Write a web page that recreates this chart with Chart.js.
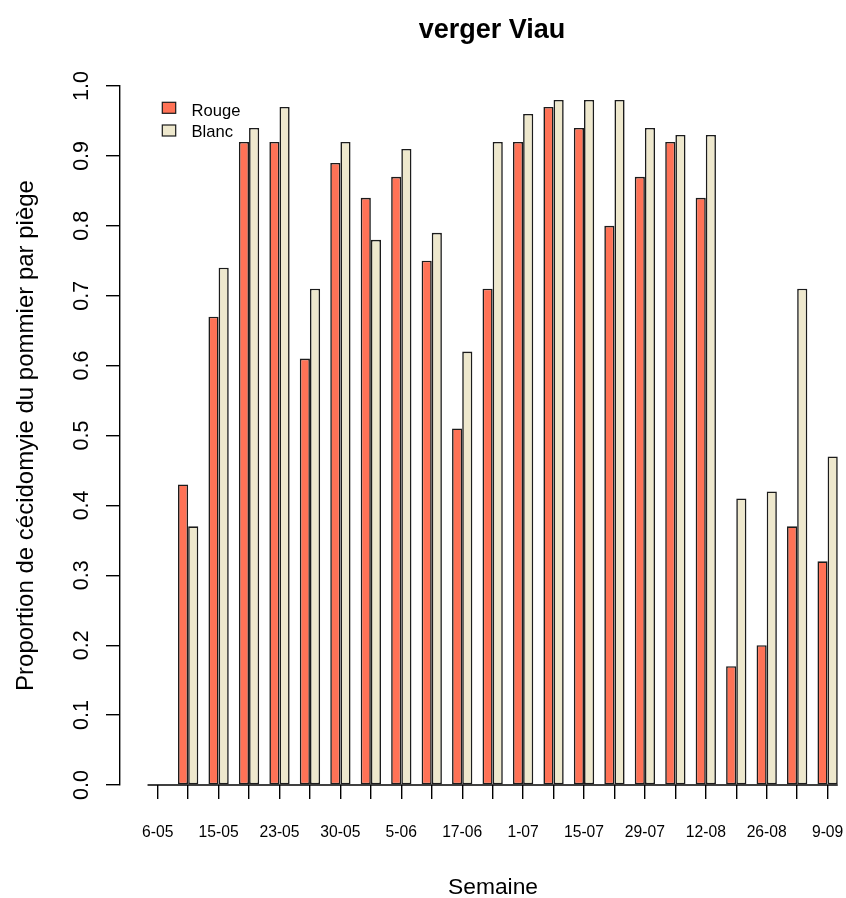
<!DOCTYPE html>
<html>
<head>
<meta charset="utf-8">
<script src="https://cdn.jsdelivr.net/npm/chart.js@4/dist/chart.umd.min.js"></script>
<style>
html, body { margin: 0; padding: 0; background: #ffffff; }
#c { display: block; }
</style>
</head>
<body>
<canvas id="c" width="846" height="898"></canvas>
<script>
// ---- data ----
const weekLabels = ['6-05', '', '15-05', '', '23-05', '', '30-05', '', '5-06', '', '17-06', '', '1-07', '', '15-07', '', '29-07', '', '12-08', '', '26-08', '', '9-09'];
const rougeValues = [0, 0.43, 0.67, 0.92, 0.92, 0.61, 0.89, 0.84, 0.87, 0.75, 0.51, 0.71, 0.92, 0.97, 0.94, 0.80, 0.87, 0.92, 0.84, 0.17, 0.20, 0.37, 0.32];
const blancValues = [0, 0.37, 0.74, 0.94, 0.97, 0.71, 0.92, 0.78, 0.91, 0.79, 0.62, 0.92, 0.96, 0.98, 0.98, 0.98, 0.94, 0.93, 0.93, 0.41, 0.42, 0.71, 0.47];
const yTickLabels = ['0.0', '0.1', '0.2', '0.3', '0.4', '0.5', '0.6', '0.7', '0.8', '0.9', '1.0'];
const seriesNames = ['Rouge', 'Blanc'];
const titleText = 'verger Viau';
const xTitleText = 'Semaine';
const yTitleText = 'Proportion de cécidomyie du pommier par piège';

const FONT = '"Liberation Sans", Arial, Helvetica, sans-serif';
const INK = '#000000';
const colRouge = '#FF7256';
const colBlanc = '#EEE8CD';

const rPlugin = {
  id: 'rstyle',
  afterDraw(chart) {
    const ctx = chart.ctx;
    const ys = chart.scales.y;
    ctx.save();
    ctx.fillStyle = INK;
    ctx.strokeStyle = INK;

    // y tick labels, rotated like R (las = 0)
    ctx.font = '21.5px ' + FONT;
    ctx.textAlign = 'center';
    ctx.textBaseline = 'alphabetic';
    ys.ticks.forEach((t) => {
      const py = ys.getPixelForValue(t.value);
      ctx.save();
      ctx.translate(80.8, py);
      ctx.rotate(-Math.PI / 2);
      ctx.fillText(t.label, 0, 0.358 * 21.5);
      ctx.restore();
    });

    // x axis baseline: spans from first bar to last bar
    const m0 = chart.getDatasetMeta(0).data;
    const m1 = chart.getDatasetMeta(1).data;
    const b0 = m0[0], bl = m1[m1.length - 1];
    const x0 = b0.x - b0.width / 2;
    const x1 = bl.x + bl.width / 2;
    const y0 = ys.getPixelForValue(0);
    ctx.lineWidth = 1.4;
    ctx.beginPath();
    ctx.moveTo(x0, y0);
    ctx.lineTo(x1, y0);
    ctx.stroke();

    // main title
    ctx.font = 'bold 27px ' + FONT;
    ctx.textAlign = 'center';
    ctx.textBaseline = 'alphabetic';
    ctx.fillText(titleText, 492, 37.5);

    // x title
    ctx.font = '22.8px ' + FONT;
    ctx.fillText(xTitleText, 493, 894);

    // legend
    ctx.font = '16.6px ' + FONT;
    ctx.textAlign = 'left';
    const legendRows = [
      { boxY: 102.3, textY: 115.5 },
      { boxY: 125.0, textY: 136.5 }
    ];
    chart.data.datasets.forEach((ds, i) => {
      const r = legendRows[i];
      ctx.fillStyle = ds.backgroundColor;
      ctx.fillRect(162.3, r.boxY, 13.4, 11);
      ctx.lineWidth = 1.2;
      ctx.strokeStyle = '#1a1a1a';
      ctx.strokeRect(162.3, r.boxY, 13.4, 11);
      ctx.fillStyle = INK;
      ctx.fillText(ds.label, 191.5, r.textY);
    });
    ctx.restore();
  }
};

new Chart(document.getElementById('c').getContext('2d'), {
  type: 'bar',
  data: {
    datasets: [
      {
        label: seriesNames[0],
        data: rougeValues.map((v, i) => ({ x: i, y: v })),
        backgroundColor: colRouge,
        borderColor: '#1c1c1c',
        borderWidth: 1.6,
        borderSkipped: false,
        categoryPercentage: 2 / 3,
        barPercentage: 1.0
      },
      {
        label: seriesNames[1],
        data: blancValues.map((v, i) => ({ x: i, y: v })),
        backgroundColor: colBlanc,
        borderColor: '#1c1c1c',
        borderWidth: 1.6,
        borderSkipped: false,
        categoryPercentage: 2 / 3,
        barPercentage: 1.0
      }
    ]
  },
  options: {
    responsive: false,
    animation: false,
    devicePixelRatio: 1,
    layout: { padding: { top: 86, left: 0, right: 0, bottom: 0 } },
    plugins: {
      legend: { display: false },
      tooltip: { enabled: false },
      title: { display: false }
    },
    scales: {
      x: {
        type: 'linear',
        offset: false,
        min: -1.238,
        max: 22.604,
        afterBuildTicks: (s) => { s.ticks = weekLabels.map((l, i) => ({ value: i })); },
        afterFit: (s) => { s.height = 113; s.paddingLeft = 0; s.paddingRight = 0; },
        border: { display: false },
        grid: { offset: false, drawOnChartArea: false, drawTicks: true, tickLength: 14, color: INK, lineWidth: 1.4 },
        ticks: {
          autoSkip: false,
          maxRotation: 0,
          minRotation: 0,
          padding: 24,
          color: INK,
          font: { family: FONT, size: 15.7 },
          callback: (v) => weekLabels[Math.round(v)]
        }
      },
      y: {
        min: 0,
        max: 1,
        afterFit: (s) => { s.width = 120; },
        border: { display: true, color: INK, width: 1.4 },
        grid: { drawOnChartArea: false, drawTicks: true, tickLength: 14, color: INK, lineWidth: 1.4 },
        ticks: {
          stepSize: 0.1,
          display: false,
          callback: (v, i) => yTickLabels[i]
        },
        title: {
          display: true,
          text: yTitleText,
          color: INK,
          font: { family: FONT, size: 24 },
          padding: { top: 12, bottom: 0 }
        }
      }
    }
  },
  plugins: [rPlugin]
});
</script>
</body>
</html>
